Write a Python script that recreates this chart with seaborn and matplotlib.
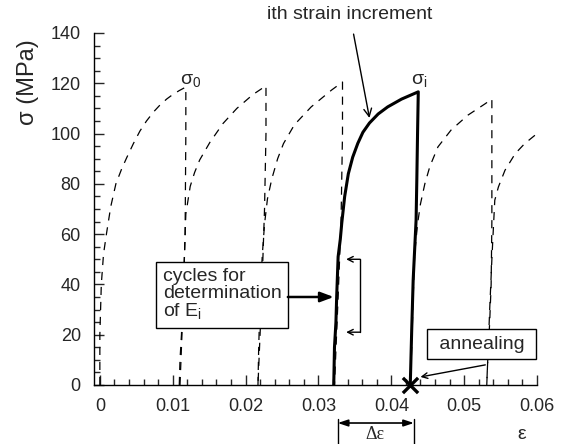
import numpy as np
import pandas as pd
import matplotlib
matplotlib.use("Agg")
import matplotlib.pyplot as plt
from matplotlib.ticker import MultipleLocator, FuncFormatter
import seaborn as sns

# ------------------------------------------------------------
# Datos (deformacion, tension en MPa)
# ------------------------------------------------------------
ciclo0_eps = [0.0000, 0.0000, 0.0002, 0.0005, 0.0009, 0.0015, 0.0022, 0.0030, 0.0037,
              0.0046, 0.0055, 0.0064, 0.0074, 0.0083, 0.0092, 0.0100, 0.0109, 0.0118,
              0.0118, 0.0117, 0.0114, 0.0110]
ciclo0_sig = [0, 20, 40, 52, 60, 71, 80, 86, 90.5, 96, 101, 105, 108.7, 111.5, 113.8,
              115.5, 117.1, 118.5, 100, 60, 30, 0]

ciclo1_eps = [0.0109, 0.0110, 0.0112, 0.0114, 0.0116, 0.0118, 0.0124, 0.0130, 0.0137,
              0.0151, 0.0169, 0.0188, 0.0210, 0.0228, 0.0228, 0.0226, 0.0222, 0.0217]
ciclo1_sig = [0, 10, 20, 35, 51, 68, 79, 84.5, 89.5, 96.5, 104, 110, 115.5, 119,
              100, 70, 35, 0]

ciclo2_eps = [0.0217, 0.0218, 0.0220, 0.0223, 0.0226, 0.0230, 0.0236, 0.0244, 0.0252,
              0.0267, 0.0290, 0.0318, 0.0333, 0.0333, 0.0331, 0.0327, 0.0322]
ciclo2_sig = [0, 15, 35, 52, 64, 74, 82, 90, 96, 103.5, 110.6, 117.3, 120.5, 100, 65, 35, 0]

ciclo_i_eps = [0.0321, 0.0322, 0.0324, 0.0325, 0.0327, 0.0330, 0.0332, 0.0336, 0.0341,
               0.0347, 0.0354, 0.0361, 0.0370, 0.0382, 0.0395, 0.0414, 0.0437,
               0.0436, 0.0435, 0.0434, 0.0430, 0.0428, 0.0426]
ciclo_i_sig = [0, 15, 25, 35, 51, 58, 64.4, 75, 84, 90.6, 96.1, 100.5, 104.2, 107.8,
               110.6, 113.7, 116.6, 100, 81.5, 65.6, 41.8, 22, 0]

ciclo4_eps = [0.0426, 0.0428, 0.0430, 0.0432, 0.0436, 0.0440, 0.0446, 0.0453, 0.0464,
              0.0482, 0.0505, 0.0528, 0.0538, 0.0538, 0.0537, 0.0535, 0.0532, 0.0531]
ciclo4_sig = [0, 15, 35, 52, 64, 72, 80, 87, 94.7, 101.4, 107.3, 111.7, 113.7,
              65, 40, 25, 8, 0]

ciclo5_eps = [0.0531, 0.0533, 0.0535, 0.0538, 0.0540, 0.0542, 0.0547, 0.0556, 0.0570,
              0.0583, 0.0600]
ciclo5_sig = [0, 15, 30, 50, 62, 73.5, 78.8, 85.4, 92, 96, 100]

recocido_eps = [0.0426]
recocido_sig = [0]

x_ticks = [0, 0.01, 0.02, 0.03, 0.04, 0.05, 0.06]
y_ticks = [0, 20, 40, 60, 80, 100, 120, 140]

# ------------------------------------------------------------
# Estilo
# ------------------------------------------------------------
sns.set_style("ticks")
plt.rcParams['font.family'] = ['Liberation Sans', 'DejaVu Sans']
plt.rcParams['mathtext.fontset'] = 'custom'
plt.rcParams['mathtext.rm'] = 'Liberation Sans'
plt.rcParams['mathtext.it'] = 'Liberation Sans'
FS = 13
FT = 14

fig = plt.figure(figsize=(5.62, 4.44), dpi=100)
ax = fig.add_axes([0.1673, 0.1329, 0.7883, 0.7928])

dashed = [(ciclo0_eps, ciclo0_sig), (ciclo1_eps, ciclo1_sig), (ciclo2_eps, ciclo2_sig),
          (ciclo4_eps, ciclo4_sig), (ciclo5_eps, ciclo5_sig)]
for eps, sig in dashed:
    sns.lineplot(x=eps, y=sig, sort=False, estimator=None, ax=ax, color='black',
                 lw=0.9, linestyle=(0, (6.5, 5.5)))

sns.lineplot(x=ciclo_i_eps, y=ciclo_i_sig, sort=False, estimator=None, ax=ax,
             color='black', lw=2.2)

sns.scatterplot(x=recocido_eps, y=recocido_sig, ax=ax, marker='x', s=120,
                color='black', linewidth=2.4, clip_on=False, zorder=5)

# ------------------------------------------------------------
# Ejes
# ------------------------------------------------------------
ax.set_xlim(-0.0008, 0.06)
ax.set_ylim(0, 140)
ax.set_xticks(x_ticks)
ax.set_yticks(y_ticks)
ax.xaxis.set_major_formatter(FuncFormatter(lambda v, p: '0' if abs(v) < 1e-9 else f'{v:.2f}'))
ax.xaxis.set_minor_locator(MultipleLocator(0.002))
ax.yaxis.set_minor_locator(MultipleLocator(5))
ax.tick_params(which='major', direction='in', length=7, width=1, labelsize=FS, pad=9.5)
ax.tick_params(which='minor', direction='in', length=4, width=1)
sns.despine(ax=ax)
for s in ['left', 'bottom']:
    ax.spines[s].set_linewidth(1.0)
    ax.spines[s].set_color('black')

ax.set_ylabel('σ (MPa)', fontsize=17, va='center')
ax.yaxis.set_label_coords(-0.148, 0.86)
ax.set_xlabel('ε', fontsize=FT, va='center')
ax.xaxis.set_label_coords(0.966, -0.14)

# ------------------------------------------------------------
# Anotaciones
# ------------------------------------------------------------
ax.text(0.0110, 121.3, 'σ$_{0}$', fontsize=FT, ha='left', va='center')
ax.text(0.0427, 121.3, 'σ$_{i}$', fontsize=FT, ha='left', va='center')

ax.annotate('ith strain increment', xy=(0.0370, 106.2), xytext=(0.0343, 147.5),
            fontsize=FT, ha='center', va='center', annotation_clip=False,
            arrowprops=dict(arrowstyle='->', color='black', lw=1,
                            shrinkA=6, shrinkB=0))

ax.text(0.01677, 36.0, 'cycles for\ndetermination\nof E$_{i}$', fontsize=FT,
        ha='center', va='center', multialignment='left', linespacing=0.95,
        bbox=dict(boxstyle='square,pad=0.35', fc='white', ec='black', lw=1))
ax.annotate('', xy=(0.0321, 35), xytext=(0.0258, 35),
            arrowprops=dict(arrowstyle='-|>,head_length=0.8,head_width=0.3',
                            color='black', lw=1.8, shrinkA=0, shrinkB=0))

# corchete de ciclos
ax.plot([0.0357, 0.0357], [50, 21], color='black', lw=1)
for yb in [50, 21]:
    ax.annotate('', xy=(0.0338, yb), xytext=(0.0357, yb),
                arrowprops=dict(arrowstyle='->', color='black', lw=1,
                                shrinkA=0, shrinkB=0))

ax.text(0.0524, 16.3, ' annealing ', fontsize=FT, ha='center', va='center',
        bbox=dict(boxstyle='square,pad=0.35', fc='white', ec='black', lw=1), zorder=6)
ax.annotate('', xy=(0.0440, 3.2), xytext=(0.0529, 8.0),
            arrowprops=dict(arrowstyle='->', color='black', lw=1,
                            shrinkA=0, shrinkB=0))

# delta epsilon bajo el eje
trans = ax.get_xaxis_transform()
for xv in [0.03265, 0.0431]:
    ax.plot([xv, xv], [-0.0966, -0.1676], color='black', lw=1,
            transform=trans, clip_on=False)
ax.annotate('', xy=(0.0431, -0.108), xytext=(0.03265, -0.108),
            xycoords=trans, textcoords=trans, annotation_clip=False,
            arrowprops=dict(arrowstyle='<|-|>,head_length=0.6,head_width=0.2',
                            color='black', lw=1.2, shrinkA=0, shrinkB=0))
ax.text(0.0378, -0.142, 'Δε', fontsize=FS, ha='center', va='center',
        family=['Liberation Serif', 'DejaVu Serif'], transform=trans)

fig.savefig('out.png', dpi=100)
